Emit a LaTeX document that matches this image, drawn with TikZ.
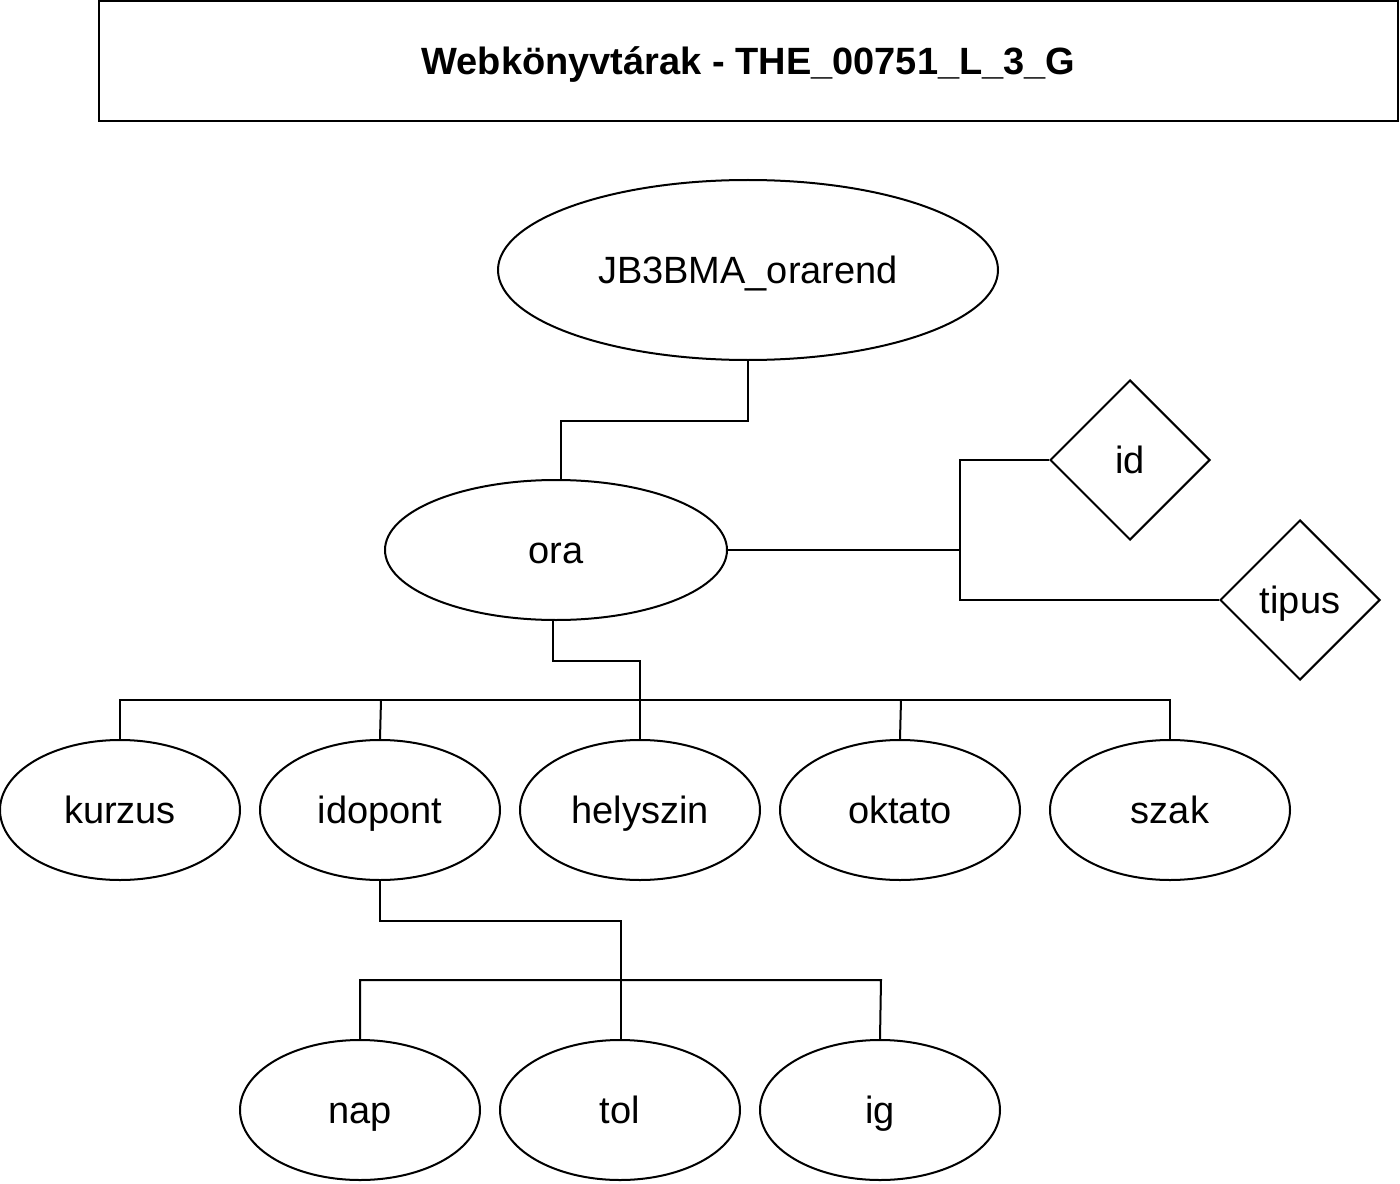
\documentclass[tikz,border=0pt]{standalone}
\usepackage{fontspec}
\setmainfont{Liberation Sans}
\usetikzlibrary{shapes.geometric}
\begin{document}
\begin{tikzpicture}[x=0.75pt,y=-0.75pt,
  every node/.style={font=\fontsize{28.5}{34}\selectfont, inner sep=0pt, text height=26pt, text depth=5.6pt},
  ent/.style={draw, line width=1.5pt, ellipse, minimum width=180pt, minimum height=105pt},
  rel/.style={draw, line width=1.5pt, diamond, minimum width=120pt, minimum height=120pt},
  conn/.style={line width=1.5pt}]
\path[use as bounding box] (0,0) rectangle (1400,1184);
\node[draw, line width=1.5pt, minimum width=974.25pt, minimum height=90pt, font=\fontsize{28.5}{34}\selectfont\bfseries] (title) at (748.5,61) {Webkönyvtárak - THE\_00751\_L\_3\_G};
\node[ent, minimum width=375pt, minimum height=135pt] (jb) at (748,270) {JB3BMA\_orarend};
\node[ent, minimum width=256.5pt] (ora) at (556,550) {ora};
\node[rel] (id) at (1130,460) {id};
\node[rel] (tipus) at (1300,600) {tipus};
\node[ent] (kurzus) at (120,810) {kurzus};
\node[ent] (idopont) at (380,810) {idopont};
\node[ent] (helyszin) at (640,810) {helyszin};
\node[ent] (oktato) at (900,810) {oktato};
\node[ent] (szak) at (1170,810) {szak};
\node[ent] (nap) at (360,1110) {nap};
\node[ent] (tol) at (620,1110) {tol};
\node[ent] (ig) at (880,1110) {ig};
% connectors
\coordinate (k1) at (960,550);
\draw[conn] (jb.south) -- ++(0,60) -| ([xshift=3.75pt]ora.north);
\draw[conn] (ora.east) -- (k1);
\draw[conn] (k1) |- (id.west);
\draw[conn] (k1) |- (tipus.west);
\draw[conn] ([xshift=-2.25pt]ora.south) -- ++(0,40) -| (helyszin.north);
\draw[conn] (kurzus.north) -- (120,700) -- (1170,700) -- (szak.north);
\draw[conn] (381,700) -- (idopont.north);
\draw[conn] (901,700) -- (oktato.north);
\draw[conn] (idopont.south) -- ++(0,40) -| ([xshift=0.75pt]tol.north);
\draw[conn] (nap.north) -- (360,980) -- (881,980) -- (ig.north);
\end{tikzpicture}
\end{document}
